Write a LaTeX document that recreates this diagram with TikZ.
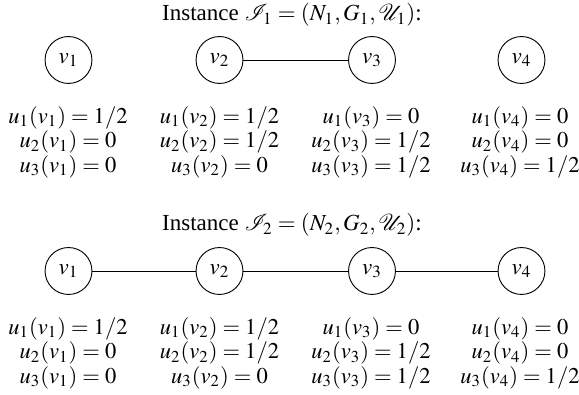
\documentclass[tikz,border=0pt]{standalone}
\usepackage{mathptmx}
\usepackage{mathrsfs}
\usepackage{fontspec}
\setmainfont{Liberation Serif}
\begin{document}
\begin{tikzpicture}[x=0.4348pt,y=-0.4348pt,
  vert/.style={circle,draw,minimum size=20.4pt,inner sep=0pt},
  vals/.style={align=center,inner sep=0pt,font=\fontsize{9.8}{10.7}\selectfont},
  ttl/.style={inner sep=0pt},
  edge/.style={draw}]
\useasboundingbox (0,0) rectangle (579,395);
% Instance 1
\node[ttl] (t1) at (292,15) {Instance $\mathscr{I}_1=(N_1,G_1,\mathscr{U}_1)$:};
\node[vert] (a1) at (68.5,60) {$v_1$};
\node[vert] (a2) at (219.5,60) {$v_2$};
\node[vert] (a3) at (372,60) {$v_3$};
\node[vert] (a4) at (521.5,60) {$v_4$};
\draw[edge] (a2) -- (a3);
\node[vals] (p1) at (68,142) {$u_1(v_1)=1/2$\\$u_2(v_1)=0$\\$u_3(v_1)=0$};
\node[vals] (p2) at (219.5,142) {$u_1(v_2)=1/2$\\$u_2(v_2)=1/2$\\$u_3(v_2)=0$};
\node[vals] (p3) at (371,142) {$u_1(v_3)=0$\\$u_2(v_3)=1/2$\\$u_3(v_3)=1/2$};
\node[vals] (p4) at (520,142) {$u_1(v_4)=0$\\$u_2(v_4)=0$\\$u_3(v_4)=1/2$};
% Instance 2
\node[ttl] (t2) at (292,225) {Instance $\mathscr{I}_2=(N_2,G_2,\mathscr{U}_2)$:};
\node[vert] (b1) at (68.5,271) {$v_1$};
\node[vert] (b2) at (219.5,271) {$v_2$};
\node[vert] (b3) at (372,271) {$v_3$};
\node[vert] (b4) at (521.5,271) {$v_4$};
\draw[edge] (b1) -- (b2) -- (b3) -- (b4);
\node[vals] (q1) at (68,353) {$u_1(v_1)=1/2$\\$u_2(v_1)=0$\\$u_3(v_1)=0$};
\node[vals] (q2) at (219.5,353) {$u_1(v_2)=1/2$\\$u_2(v_2)=1/2$\\$u_3(v_2)=0$};
\node[vals] (q3) at (371,353) {$u_1(v_3)=0$\\$u_2(v_3)=1/2$\\$u_3(v_3)=1/2$};
\node[vals] (q4) at (520,353) {$u_1(v_4)=0$\\$u_2(v_4)=0$\\$u_3(v_4)=1/2$};
\end{tikzpicture}
\end{document}
